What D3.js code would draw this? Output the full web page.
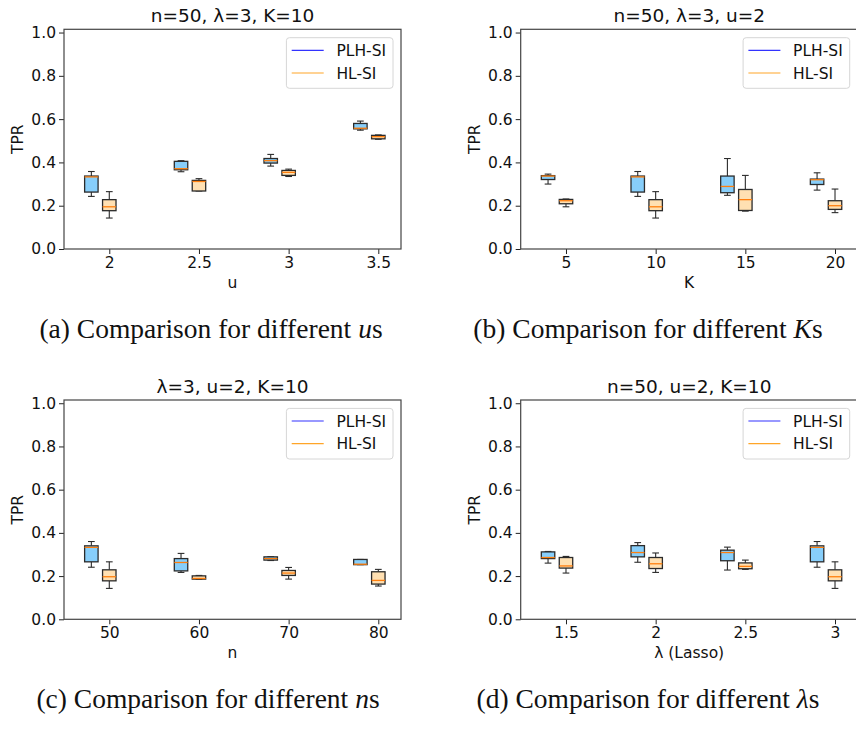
<!DOCTYPE html>
<html>
<head>
<meta charset="utf-8">
<script src="https://cdn.jsdelivr.net/npm/d3@7/dist/d3.min.js"></script>
<style>
  html, body { margin: 0; padding: 0; background: #fff; }
  svg { display: block; }
  .sans { font-family: "DejaVu Sans", sans-serif; }
</style>
</head>
<body>
<svg id="chart" width="856" height="731"></svg>
<script>
// ---------- DATA (each box: [whiskerLow, q1, median, q3, whiskerHigh]) ----------
const seriesNames = ["PLH-SI", "HL-SI"];

const catsA = ["2", "2.5", "3", "3.5"];
const plhA = [[0.243,0.263,0.333,0.337,0.358],[0.357,0.366,0.371,0.405,0.408],[0.383,0.397,0.408,0.418,0.437],[0.549,0.555,0.558,0.580,0.591]];
const hlA  = [[0.143,0.177,0.195,0.228,0.265],[0.268,0.268,0.312,0.317,0.325],[0.335,0.340,0.354,0.363,0.369],[0.507,0.509,0.519,0.525,0.527]];

const catsB = ["5", "10", "15", "20"];
const plhB = [[0.300,0.321,0.337,0.339,0.346],[0.243,0.263,0.333,0.337,0.358],[0.248,0.260,0.289,0.337,0.418],[0.272,0.298,0.320,0.323,0.352]];
const hlB  = [[0.195,0.209,0.223,0.229,0.231],[0.143,0.177,0.195,0.228,0.265],[0.175,0.178,0.228,0.275,0.340],[0.168,0.183,0.200,0.223,0.277]];

const catsC = ["50", "60", "70", "80"];
const plhC = [[0.241,0.266,0.333,0.340,0.360],[0.217,0.224,0.263,0.281,0.305],[0.272,0.274,0.281,0.289,0.290],[0.253,0.253,0.255,0.277,0.277]];
const hlC  = [[0.143,0.178,0.197,0.229,0.266],[0.186,0.186,0.189,0.201,0.203],[0.186,0.203,0.214,0.226,0.240],[0.154,0.163,0.180,0.220,0.231]];

const catsD = ["1.5", "2", "2.5", "3"];
const plhD = [[0.260,0.281,0.286,0.312,0.314],[0.264,0.289,0.309,0.341,0.355],[0.228,0.271,0.309,0.320,0.334],[0.241,0.266,0.333,0.340,0.360]];
const hlD  = [[0.214,0.237,0.247,0.286,0.291],[0.217,0.235,0.257,0.286,0.307],[0.231,0.234,0.245,0.261,0.274],[0.143,0.178,0.197,0.229,0.266]];

const yTicks = [0, 0.2, 0.4, 0.6, 0.8, 1.0];

const titles = ["n=50, \u03bb=3, K=10", "n=50, \u03bb=3, u=2", "\u03bb=3, u=2, K=10", "n=50, u=2, K=10"];
const xLabels = ["u", "K", "n", "\u03bb (Lasso)"];
const captions = [
  ["(a) Comparison for different ", "u", "s"],
  ["(b) Comparison for different ", "K", "s"],
  ["(c) Comparison for different ", "n", "s"],
  ["(d) Comparison for different ", "\u03bb", "s"]
];

// ---------- STYLE ----------
const plhFill = "#87cefa", hlFill = "#ffe0b2";
const edge = "#2b2b2b", medianColor = "#ff7f0e";
const legendColors = ["#3333ff", "#ffa528"];

const panels = [
  { cats: catsA, plh: plhA, hl: hlA, left: 64,    top: 29.3,  bottom: 249,   capX: 211, capY: 338 },
  { cats: catsB, plh: plhB, hl: hlB, left: 520.7, top: 29.3,  bottom: 249,   capX: 648, capY: 338 },
  { cats: catsC, plh: plhC, hl: hlC, left: 64,    top: 400,   bottom: 619.3, capX: 208, capY: 708 },
  { cats: catsD, plh: plhD, hl: hlD, left: 520.7, top: 400,   bottom: 619.3, capX: 648, capY: 708 }
];
const plotW = 337;
const boxW = 0.15;   // in group units
const offset = 0.2;  // PLH shifted left by this amount

const svg = d3.select("#chart");

panels.forEach((p, pi) => {
  const g = svg.append("g");
  const x = d3.scaleLinear().domain([-0.505, 3.253]).range([p.left, p.left + plotW]);
  const y = d3.scaleLinear().domain([0, 1.015]).range([p.bottom, p.top]);

  // axes
  const yAxis = d3.axisLeft(y).tickValues(yTicks).tickFormat(d3.format(".1f")).tickSize(5).tickPadding(3);
  const ya = g.append("g").attr("transform", `translate(${p.left},0)`).call(yAxis);
  const xAxis = d3.axisBottom(x).tickValues(d3.range(p.cats.length)).tickFormat(i => p.cats[i]).tickSize(5).tickPadding(3);
  const xa = g.append("g").attr("transform", `translate(0,${p.bottom})`).call(xAxis);
  [ya, xa].forEach(a => {
    a.select(".domain").remove();
    a.selectAll("line").attr("stroke", "#222").attr("stroke-width", 1);
    a.selectAll("text").attr("font-family", "DejaVu Sans").attr("font-size", 15.5).attr("fill", "#111");
  });

  // frame
  g.append("rect")
    .attr("x", p.left).attr("y", p.top)
    .attr("width", plotW).attr("height", p.bottom - p.top)
    .attr("fill", "none").attr("stroke", "#444").attr("stroke-width", 1.2);

  // boxes
  const drawBox = (stats, pos, fill) => {
    const cx = x(pos);
    const half = (x(boxW) - x(0)) / 2;
    const cap = half / 2;
    const [lo, q1, med, q3, hi] = stats;
    const bg = g.append("g");
    bg.append("line").attr("x1", cx).attr("x2", cx).attr("y1", y(q3)).attr("y2", y(hi)).attr("stroke", edge).attr("stroke-width", 1.1);
    bg.append("line").attr("x1", cx).attr("x2", cx).attr("y1", y(q1)).attr("y2", y(lo)).attr("stroke", edge).attr("stroke-width", 1.1);
    bg.append("line").attr("x1", cx - cap).attr("x2", cx + cap).attr("y1", y(hi)).attr("y2", y(hi)).attr("stroke", edge).attr("stroke-width", 1.1);
    bg.append("line").attr("x1", cx - cap).attr("x2", cx + cap).attr("y1", y(lo)).attr("y2", y(lo)).attr("stroke", edge).attr("stroke-width", 1.1);
    bg.append("rect").attr("x", cx - half).attr("width", 2 * half)
      .attr("y", y(q3)).attr("height", Math.max(0.5, y(q1) - y(q3)))
      .attr("fill", fill).attr("stroke", edge).attr("stroke-width", 1.3);
    bg.append("line").attr("x1", cx - half).attr("x2", cx + half).attr("y1", y(med)).attr("y2", y(med))
      .attr("stroke", medianColor).attr("stroke-width", 1.3);
  };
  p.cats.forEach((c, i) => {
    drawBox(p.plh[i], i - offset, plhFill);
    drawBox(p.hl[i], i, hlFill);
  });

  // title
  g.append("text").attr("x", p.left + plotW / 2).attr("y", p.top - 7)
    .attr("text-anchor", "middle").attr("font-family", "DejaVu Sans").attr("font-size", 18.5).attr("fill", "#111")
    .text(titles[pi]);

  // y label
  g.append("text").attr("transform", `translate(${p.left - 41},${(p.top + p.bottom) / 2}) rotate(-90)`)
    .attr("text-anchor", "middle").attr("font-family", "DejaVu Sans").attr("font-size", 15.5).attr("fill", "#111")
    .text("TPR");

  // x label
  g.append("text").attr("x", p.left + plotW / 2).attr("y", p.bottom + 39)
    .attr("text-anchor", "middle").attr("font-family", "DejaVu Sans").attr("font-size", 15.5).attr("fill", "#111")
    .text(xLabels[pi]);

  // legend
  const lx = p.left + plotW - 8 - 106.6, ly = p.top + 8.4;
  const lg = g.append("g").attr("transform", `translate(${lx},${ly})`);
  lg.append("rect").attr("width", 106.6).attr("height", 50.6).attr("rx", 3)
    .attr("fill", "#fff").attr("fill-opacity", 0.8).attr("stroke", "#d6d6d6").attr("stroke-width", 1);
  seriesNames.forEach((s, si) => {
    const ry = 12.6 + si * 22.7;
    lg.append("line").attr("x1", 5.3).attr("x2", 37.3).attr("y1", ry).attr("y2", ry)
      .attr("stroke", legendColors[si]).attr("stroke-width", 1.2);
    lg.append("text").attr("x", 50).attr("y", ry + 5.6)
      .attr("font-family", "DejaVu Sans").attr("font-size", 15.5).attr("fill", "#111").text(s);
  });

  // caption
  const cap = svg.append("text").attr("x", p.capX).attr("y", p.capY).attr("text-anchor", "middle")
    .attr("font-family", "Liberation Serif, serif").attr("font-size", 27.5).attr("fill", "#111");
  cap.append("tspan").text(captions[pi][0]);
  cap.append("tspan").attr("font-style", "italic").text(captions[pi][1]);
  cap.append("tspan").text(captions[pi][2]);
});
</script>
</body>
</html>
